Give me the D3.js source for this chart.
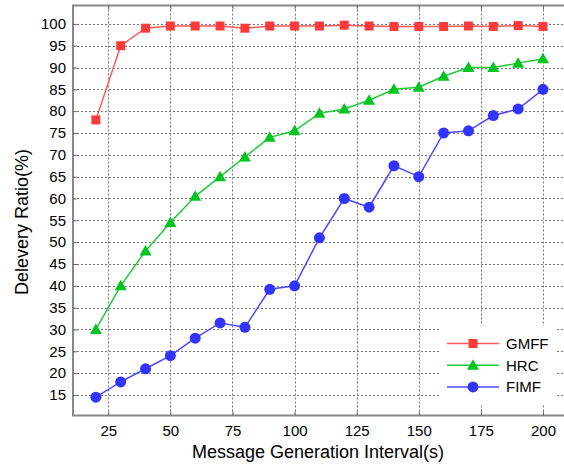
<!DOCTYPE html>
<html>
<head>
<meta charset="utf-8">
<script src="https://cdn.jsdelivr.net/npm/d3@7"></script>
<style>
body { margin: 0; background: #fff; }
text { font-family: "Liberation Sans", Arial, sans-serif; fill: #000; }
</style>
</head>
<body>
<div id="chart"></div>
<script>
const intervals = [20, 30, 40, 50, 60, 70, 80, 90, 100, 110, 120, 130, 140, 150, 160, 170, 180, 190, 200];
const gmff = [78, 95, 99, 99.5, 99.5, 99.5, 99, 99.5, 99.5, 99.5, 99.7, 99.5, 99.4, 99.4, 99.4, 99.5, 99.4, 99.6, 99.4];
const hrc = [30, 40, 48, 54.5, 60.5, 65, 69.5, 74, 75.5, 79.5, 80.5, 82.5, 85, 85.5, 88, 90, 90, 91, 92];
const fimf = [14.5, 18, 21, 24, 28, 31.5, 30.5, 39.2, 40, 51, 60, 58, 67.5, 65, 75, 75.5, 79, 80.5, 85];
const xTicks = [25, 50, 75, 100, 125, 150, 175, 200];
const yTicks = [15, 20, 25, 30, 35, 40, 45, 50, 55, 60, 65, 70, 75, 80, 85, 90, 95, 100];

(function(){
const series = [
  { name: 'GMFF', values: gmff, color: '#ff3a3a', line: '#ff5a5a', shape: 'square' },
  { name: 'HRC', values: hrc, color: '#00c41f', line: '#1ccc36', shape: 'triangle' },
  { name: 'FIMF', values: fimf, color: '#3333ff', line: '#4a4aff', shape: 'circle' }
];

const width = 564, height = 469;
const pLeft = 73, pTop = 5.5, pBottom = 415.5, pRight = 580;

const svg = d3.select('#chart').append('svg').attr('width', width).attr('height', height);

const x = d3.scaleLinear().domain([10.8, 214.9]).range([pLeft, pRight]);
const y = d3.scaleLinear().domain([10.3, 104.2]).range([pBottom, pTop]);

// grid
const grid = svg.append('g').attr('stroke', '#777').attr('stroke-width', 1).attr('stroke-dasharray', '2,2');
grid.selectAll('.gx').data(xTicks).enter().append('line')
  .attr('x1', d => Math.round(x(d)) + 0.5).attr('x2', d => Math.round(x(d)) + 0.5)
  .attr('y1', pTop).attr('y2', pBottom);
grid.selectAll('.gy').data(yTicks).enter().append('line')
  .attr('y1', d => Math.round(y(d)) + 0.5).attr('y2', d => Math.round(y(d)) + 0.5)
  .attr('x1', pLeft).attr('x2', pRight);

// frame
const frame = svg.append('g').attr('stroke', '#888').attr('stroke-width', 2).attr('fill', 'none');
frame.append('line').attr('x1', pLeft).attr('x2', pLeft).attr('y1', pTop).attr('y2', pBottom);
frame.append('line').attr('x1', pLeft - 1).attr('x2', pRight).attr('y1', pBottom).attr('y2', pBottom);
frame.append('line').attr('x1', pLeft - 1).attr('x2', pRight).attr('y1', pTop).attr('y2', pTop);

// axes
const xAxis = svg.append('g').attr('transform', `translate(0,${pBottom})`)
  .call(d3.axisBottom(x).tickValues(xTicks).tickSize(-4).tickPadding(10));
const yAxis = svg.append('g').attr('transform', `translate(${pLeft},0)`)
  .call(d3.axisLeft(y).tickValues(yTicks).tickSize(-4).tickPadding(7));
[xAxis, yAxis].forEach(a => {
  a.select('.domain').remove();
  a.selectAll('.tick line').attr('stroke', '#666');
  a.selectAll('.tick text').attr('font-size', 15).attr('font-family', '"Liberation Sans", Arial, sans-serif').attr('fill', '#000');
});
svg.append('g').attr('transform', `translate(0,${pTop})`)
  .call(d3.axisTop(x).tickValues(xTicks).tickSize(-4).tickFormat(''))
  .call(g => { g.select('.domain').remove(); g.selectAll('.tick line').attr('stroke', '#666'); });

// titles
svg.append('text').attr('x', 318).attr('y', 458).attr('text-anchor', 'middle')
  .attr('font-size', 18).text('Message Generation Interval(s)');
svg.append('text').attr('transform', 'translate(28,222) rotate(-90)').attr('text-anchor', 'middle')
  .attr('font-size', 18).text('Delevery Ratio(%)');

function marker(g, shape, color) {
  if (shape === 'square') {
    g.append('rect').attr('x', -4.5).attr('y', -4.5).attr('width', 9).attr('height', 9).attr('fill', color);
  } else if (shape === 'triangle') {
    g.append('path').attr('d', 'M0,-6L6,4.5L-6,4.5Z').attr('fill', color);
  } else {
    g.append('circle').attr('r', 5.5).attr('fill', color);
  }
}

const line = d3.line().x((d, i) => x(intervals[i])).y(d => y(d));
series.forEach(s => {
  svg.append('path').datum(s.values).attr('d', line)
    .attr('fill', 'none').attr('stroke', s.line).attr('stroke-width', 1.5);
  s.values.forEach((v, i) => {
    const g = svg.append('g').attr('transform', `translate(${x(intervals[i])},${y(v)})`);
    marker(g, s.shape, s.color);
  });
});

// legend
const legend = svg.append('g').attr('transform', 'translate(440,326)');
legend.append('rect').attr('width', 117).attr('height', 78).attr('fill', '#fff');
series.forEach((s, i) => {
  const row = legend.append('g').attr('transform', `translate(0,${17.5 + i * 21.7})`);
  row.append('line').attr('x1', 7).attr('x2', 59).attr('stroke', s.line).attr('stroke-width', 1.5);
  const m = row.append('g').attr('transform', 'translate(33,0)');
  marker(m, s.shape, s.color);
  row.append('text').attr('x', 66).attr('y', 5.5).attr('font-size', 15).text(s.name);
});
})();
</script>
</body>
</html>
